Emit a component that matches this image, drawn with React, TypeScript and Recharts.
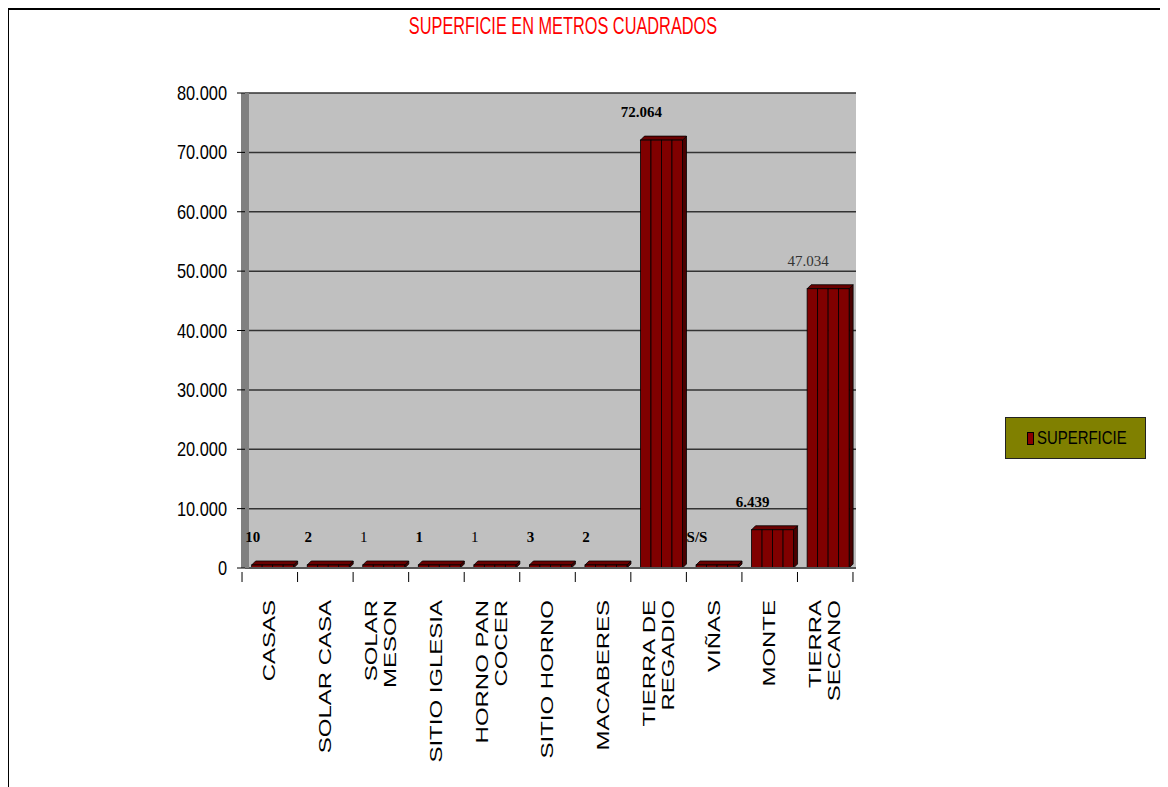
import React from 'react';
import { BarChart, Bar, XAxis, YAxis, CartesianGrid, Legend, LabelList } from 'recharts';

const categories = [
  'CASAS',
  'SOLAR CASA',
  'SOLAR\nMESON',
  'SITIO IGLESIA',
  'HORNO PAN\nCOCER',
  'SITIO HORNO',
  'MACABERES',
  'TIERRA DE\nREGADIO',
  'VIÑAS',
  'MONTE',
  'TIERRA\nSECANO',
];
const superficie = [10, 2, 1, 1, 1, 3, 2, 72064, 0, 6439, 47034];
const barLabels = ['10', '2', '1', '1', '1', '3', '2', '72.064', 'S/S', '6.439', '47.034'];
const yTicks = [0, 10000, 20000, 30000, 40000, 50000, 60000, 70000, 80000];

const data = categories.map((name, i) => ({ name, superficie: superficie[i] }));

// labels drawn in a lighter weight in the original
const lightLabels = new Set([2, 4, 10]);

const SANS = '"Liberation Sans", Arial, sans-serif';
const SERIF = '"Liberation Serif", "Times New Roman", serif';

const fmt = (v: number) => String(v).replace(/\B(?=(\d{3})+(?!\d))/g, '.');

const BarShape = (props: any) => {
  const { x, y, width, height } = props;
  const h = Math.max(height, 3);
  const top = y + height - h;
  const d = 4;
  const seg = width / 4;
  return (
    <g>
      <polygon
        points={`${x + width},${top} ${x + width + d},${top - d} ${x + width + d},${top + h - d} ${x + width},${top + h}`}
        fill="#4a0000"
        stroke="#000"
        strokeWidth={0.8}
      />
      <polygon
        points={`${x},${top} ${x + d},${top - d} ${x + width + d},${top - d} ${x + width},${top}`}
        fill="#6a0000"
        stroke="#000"
        strokeWidth={0.8}
      />
      {[0, 1, 2, 3].map((k) => (
        <rect key={k} x={x + k * seg} y={top} width={seg} height={h} fill="#800000" stroke="#000" strokeWidth={0.8} />
      ))}
    </g>
  );
};

const BarLabel = (props: any) => {
  const { x, y, width, height, index } = props;
  const h = Math.max(height, 3);
  const top = y + height - h;
  const light = lightLabels.has(index);
  return (
    <text
      x={x + width / 2 - 20}
      y={top - 28}
      dy="0.35em"
      textAnchor="middle"
      fontFamily={SERIF}
      fontSize={15}
      fontWeight={light ? 'normal' : 'bold'}
      fill={index === 10 ? '#333' : '#000'}
    >
      {barLabels[index]}
    </text>
  );
};

const XTick = (props: any) => {
  const { x, y, payload, index } = props;
  const lines = String(payload.value).split('\n');
  const half = 55.5 / 2;
  const first = lines.length > 1 ? -9.5 : 0;
  return (
    <g>
      <line x1={x - half - 3} y1={y + 2} x2={x - half - 3} y2={y + 12} stroke="#000" />
      {index === categories.length - 1 && (
        <line x1={x + half - 3} y1={y + 2} x2={x + half - 3} y2={y + 12} stroke="#000" />
      )}
      <text
        transform={`translate(${x - 3}, ${y + 30}) rotate(-90) scale(1.5, 1)`}
        textAnchor="end"
        fontFamily={SANS}
        fontSize={16}
        fill="#000"
      >
        {lines.map((l, i) => (
          <tspan key={i} x={0} dy={i === 0 ? `${first + 5.6}` : '19'}>
            {l}
          </tspan>
        ))}
      </text>
    </g>
  );
};

const YTick = (props: any) => {
  const { x, y, payload } = props;
  return (
    <text
      transform={`translate(${x - 8}, ${y}) scale(0.82, 1)`}
      textAnchor="end"
      dy="0.35em"
      fontFamily={SANS}
      fontSize={20}
      fill="#000"
    >
      {fmt(payload.value)}
    </text>
  );
};

const LegendBox = (props: any) => {
  const item = props.payload && props.payload[0];
  return (
    <div
      style={{
        width: 139,
        height: 40,
        background: '#808000',
        border: '1px solid #222',
        display: 'flex',
        alignItems: 'center',
        boxSizing: 'content-box',
      }}
    >
      <div
        style={{
          width: 6,
          height: 11,
          marginLeft: 21,
          background: '#8b0000',
          border: '1px solid #000',
        }}
      />
      <div
        style={{
          fontFamily: SANS,
          fontSize: 18,
          color: '#000',
          marginLeft: 3,
          transform: 'scaleX(0.83)',
          transformOrigin: 'left center',
          whiteSpace: 'nowrap',
        }}
      >
        {item ? item.value : 'SUPERFICIE'}
      </div>
    </div>
  );
};

export default function App() {
  return (
    <div style={{ position: 'relative', width: 1160, height: 779 }}>
      <div
        style={{
          position: 'absolute',
          left: 555,
          top: 6,
          fontFamily: SANS,
          fontSize: 24,
          lineHeight: '24px',
          color: '#ff0000',
          whiteSpace: 'nowrap',
          transform: 'translateX(-50%) scaleX(0.68)',
        }}
      >
        SUPERFICIE EN METROS CUADRADOS
      </div>
      <div style={{ position: 'absolute', left: -1, top: -4 }}>
        <BarChart
          width={1160}
          height={781}
          data={data}
          margin={{ top: 89, right: 311, bottom: 19, left: 0 }}
          barCategoryGap="12%"
        >
          <CartesianGrid vertical={false} stroke="#333" strokeWidth={1.5} fill="#c0c0c0" fillOpacity={1} />
          <XAxis
            dataKey="name"
            interval={0}
            height={156}
            tickLine={false}
            tickSize={0}
            axisLine={{ stroke: '#555', strokeWidth: 2 }}
            tick={<XTick />}
          />
          <YAxis
            width={238}
            domain={[0, 80000]}
            ticks={yTicks}
            interval={0}
            tickSize={8}
            tickLine={{ stroke: '#000' }}
            axisLine={{ stroke: '#808080', strokeWidth: 8 }}
            tick={<YTick />}
          />
          <Legend
            content={<LegendBox />}
            wrapperStyle={{ position: 'absolute', left: 998, top: 413, width: 141, height: 42 }}
          />
          <Bar dataKey="superficie" name="SUPERFICIE" fill="#800000" shape={<BarShape />} isAnimationActive={false}>
            <LabelList dataKey="superficie" content={<BarLabel />} />
          </Bar>
        </BarChart>
      </div>
      <div style={{ position: 'absolute', left: 0, top: 0, width: 1160, height: 2, background: '#000', zIndex: 10 }} />
      <div style={{ position: 'absolute', left: 0, top: 0, width: 1, height: 779, background: '#000', zIndex: 10 }} />
    </div>
  );
}
